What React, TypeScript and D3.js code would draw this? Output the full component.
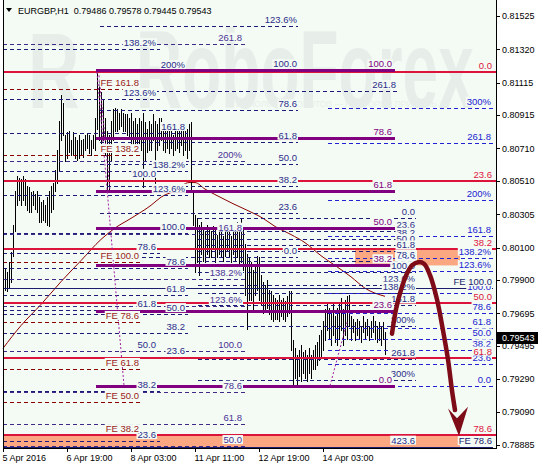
import React from "react";
import * as d3 from "d3";

// ---------- EURGBP H1 quotes (bar 1 = first bar on screen) ----------
const barHigh = [
  0.7997, 0.7995, 0.8001, 0.8007, 0.8024, 0.8045, 0.8054, 0.8053, 0.8052, 0.8054,
  0.8052, 0.8048, 0.8047, 0.8044, 0.8045, 0.8043, 0.8045, 0.8041, 0.8038, 0.8039,
  0.8036, 0.8041, 0.8045, 0.8048, 0.805, 0.8058, 0.807, 0.8088, 0.8104, 0.8099,
  0.8079, 0.8081, 0.8082, 0.8076, 0.8081, 0.8078, 0.8076, 0.8079, 0.8076, 0.8077,
  0.8079, 0.808, 0.8079, 0.8076, 0.8079, 0.809, 0.81186, 0.8113, 0.8106, 0.8101,
  0.809, 0.8082, 0.8079, 0.8088, 0.8095, 0.8096, 0.8095, 0.8093, 0.8095, 0.8093,
  0.8092, 0.8092, 0.809, 0.8093, 0.8088, 0.809, 0.8086, 0.809, 0.8088, 0.8093,
  0.8087, 0.8083, 0.8088, 0.8086, 0.8092, 0.8088, 0.8086, 0.809, 0.809, 0.8086,
  0.8083, 0.8087, 0.8082, 0.8086, 0.8079, 0.8083, 0.8085, 0.8082, 0.8087, 0.8083,
  0.8086, 0.8083, 0.8086, 0.8087, 0.8045, 0.803, 0.8028, 0.8024, 0.8026, 0.8022,
  0.802, 0.8024, 0.8022, 0.802, 0.8023, 0.8021, 0.8018, 0.8022, 0.802, 0.8017,
  0.8021, 0.8024, 0.802, 0.8017, 0.802, 0.8022, 0.8026, 0.802, 0.8028, 0.8021,
  0.8012, 0.8006, 0.8004, 0.8001, 0.7996, 0.7999, 0.8005, 0.8004, 0.7993, 0.7989,
  0.7987, 0.799, 0.7984, 0.7983, 0.7981, 0.7979, 0.7978, 0.7981, 0.7978, 0.7979,
  0.7977, 0.798, 0.7983, 0.7983, 0.7953, 0.7948, 0.7944, 0.7947, 0.795, 0.7946,
  0.7947, 0.7944, 0.7948, 0.7944, 0.7947, 0.795, 0.7952, 0.7956, 0.7959, 0.7965,
  0.7972, 0.7975, 0.7973, 0.797, 0.7975, 0.7968, 0.7973, 0.7975, 0.7979, 0.7972,
  0.7978, 0.798, 0.7981, 0.7968, 0.7966, 0.7964, 0.7966, 0.7965, 0.7962, 0.7968,
  0.7964, 0.7966, 0.7962, 0.7965, 0.7968, 0.7965, 0.7962, 0.7964, 0.7962, 0.7964,
  0.79578,
];
const barLow = [
  0.7984, 0.7983, 0.7985, 0.7989, 0.8005, 0.802, 0.8036, 0.8039, 0.8036, 0.8039,
  0.8036, 0.8033, 0.8032, 0.8032, 0.8036, 0.8034, 0.8032, 0.8026, 0.8026, 0.8027,
  0.8026, 0.8024, 0.8023, 0.8032, 0.8034, 0.8045, 0.805, 0.8058, 0.8076, 0.8079,
  0.8063, 0.8065, 0.8069, 0.8067, 0.8067, 0.8065, 0.8064, 0.8065, 0.8067, 0.8066,
  0.807, 0.8071, 0.8068, 0.8067, 0.8071, 0.807, 0.8083, 0.8076, 0.807, 0.8076,
  0.8067, 0.8045, 0.8045, 0.8064, 0.8076, 0.8082, 0.8082, 0.8083, 0.8085, 0.8082,
  0.8082, 0.8079, 0.8077, 0.8073, 0.807, 0.8073, 0.8071, 0.8074, 0.807, 0.8047,
  0.8064, 0.8069, 0.807, 0.807, 0.8076, 0.805, 0.807, 0.8073, 0.8076, 0.807,
  0.8069, 0.8071, 0.8068, 0.8071, 0.8067, 0.807, 0.8071, 0.8069, 0.8073, 0.8067,
  0.807, 0.8065, 0.807, 0.8045, 0.8024, 0.7995, 0.8001, 0.7993, 0.8006, 0.8002,
  0.8001, 0.8006, 0.8004, 0.8004, 0.8009, 0.8001, 0.8004, 0.8006, 0.8004, 0.8002,
  0.8005, 0.8008, 0.8004, 0.8001, 0.8006, 0.8002, 0.8004, 0.7999, 0.8001, 0.7996,
  0.7981, 0.796, 0.7978, 0.7978, 0.7972, 0.7981, 0.7984, 0.7978, 0.7975, 0.797,
  0.7972, 0.7973, 0.7969, 0.7966, 0.7965, 0.7966, 0.7966, 0.7965, 0.7968, 0.7966,
  0.7965, 0.7968, 0.797, 0.7947, 0.7925, 0.793, 0.7925, 0.7931, 0.7928, 0.7933,
  0.793, 0.7928, 0.7933, 0.793, 0.7935, 0.7935, 0.7938, 0.7941, 0.7942, 0.7947,
  0.7953, 0.7959, 0.7954, 0.795, 0.7956, 0.7952, 0.795, 0.7954, 0.7959, 0.795,
  0.7956, 0.7954, 0.7962, 0.7953, 0.7958, 0.7953, 0.7956, 0.7954, 0.7952, 0.7958,
  0.7954, 0.7956, 0.7953, 0.7955, 0.7958, 0.7954, 0.7952, 0.7953, 0.795, 0.7954,
  0.79445,
];
const lastClose = 0.79543;
const headerSymbol = "EURGBP,H1";
const headerValues = ["0.79486", "0.79578", "0.79445", "0.79543"];

// moving average, sampled at bar numbers
const maBars = [0, 9, 19, 29, 39, 49, 56, 64, 74, 79, 86, 93, 96, 101, 107, 115, 122, 130, 136, 144, 151, 159, 166, 174, 181, 191];
const maValues = [
  0.7948, 0.7962, 0.7975, 0.7989, 0.8002, 0.8015, 0.8022, 0.8028, 0.8036, 0.8041, 0.8045, 0.805, 0.805,
  0.8046, 0.8042, 0.8037, 0.8033, 0.8028, 0.8023, 0.8018, 0.8013, 0.8005, 0.7999, 0.7992, 0.7985, 0.798,
];

// axes
const priceTicks = [0.81525, 0.8132, 0.81115, 0.80915, 0.8071, 0.8051, 0.80305, 0.801, 0.799, 0.79695, 0.79495, 0.7929, 0.7909, 0.78885];
const timeTickBars = [0, 32, 64, 96, 128, 160];
const timeTickLabels = ["5 Apr 2016", "6 Apr 19:00", "8 Apr 03:00", "11 Apr 11:00", "12 Apr 19:00", "14 Apr 03:00"];

// ---------- Fibonacci objects ----------
const fibPurple = { p0: 0.7925, p100: 0.8119, from: 46.5, to: 196, labelAt: 195,
  ratios: [0, 23.6, 38.2, 50, 61.8, 78.6, 100],
  texts: ["0.0", "23.6", "38.2", "50.0", "61.8", "78.6", "100.0"] };
const fibCrimson = { p0: 0.8118, p100: 0.78337, from: 0, to: 246.5, labelAt: 245,
  ratios: [0, 23.6, 38.2, 50, 61.8, 78.6],
  texts: ["0.0", "23.6", "38.2", "50.0", "61.8", "78.6"] };
const fibBlue = { p0: 0.7925, p100: 0.7982, from: 162.5, to: 245, labelAt: 244.5,
  ratios: [0, 23.6, 38.2, 50, 61.8, 78.6, 100, 123.6, 138.2, 161.8, 200, 261.8, 300],
  texts: ["0.0", "23.6", "38.2", "50.0", "61.8", "78.6", "100.0", "123.6%", "138.2%", "161.8", "200%", "261.8", "300%"] };
const fibUpper = { p0: 0.80041, p100: 0.8119, from: 48.5, to: 147.5, labelAt: 147.5,
  ratios: [0, 23.6, 38.2, 50, 61.8, 78.6, 100, 123.6],
  texts: ["0.0", "23.6", "38.2", "50.0", "61.8", "78.6", "100.0", "123.6%"] };
const fibLeftWide = { p0: 0.78412, p100: 0.80517, from: 0, to: 78.5, labelAt: 77,
  ratios: [23.6, 38.2, 50, 61.8, 78.6, 100, 123.6, 138.2],
  texts: ["23.6", "38.2", "50.0", "61.8", "78.6", "100.0", "123.6%", "138.2%"] };
const fibLeftLong = { p0: 0.78294, p100: 0.79463, from: 0, to: 121, labelAt: 120,
  ratios: [50, 61.8, 78.6, 100, 123.6, 138.2, 161.8, 200, 261.8],
  texts: ["50.0", "61.8", "78.6", "100.0", "123.6%", "138.2%", "161.8", "200%", "261.8"] };
const fibMiddle = { p0: 0.80281, p100: 0.79949, from: 97.5, to: 206.5, labelAt: 206.5,
  ratios: [0, 23.6, 38.2, 50, 61.8, 78.6, 100, 123.6, 138.2, 161.8, 200, 261.8, 300, 423.6],
  texts: ["0.0", "23.6", "38.2", "50.0", "61.8", "78.6", "100.0", "123.6%", "138.2%", "161.8", "200%", "261.8", "300%", "423.6"] };
const fibLeftShort = { p0: 0.79192, p100: 0.80189, from: 0, to: 92.5, labelAt: 91.5,
  ratios: [23.6, 38.2, 50, 61.8, 78.6, 100, 123.6, 138.2, 161.8, 200],
  texts: ["23.6", "38.2", "50.0", "61.8", "78.6", "100.0", "123.6%", "138.2%", "161.8", "200%"] };
const fibSingle = { p0: 0.80041, p100: 0.81063, from: 76, to: 197, labelAt: 197,
  ratios: [100], texts: ["261.8"] };
const expansionRed = { p0: 0.78288, p100: 0.80011, from: 0, to: 68.5, labelAt: 68.5,
  ratios: [38.2, 50, 61.8, 78.6, 100, 138.2, 161.8],
  texts: ["FE 38.2", "FE 50.0", "FE 61.8", "FE 78.6", "FE 100.0", "FE 138.2", "FE 161.8"] };
const expansionNavy = { p0: 0.75276, p100: 0.79851, from: 0, to: 245, labelAt: 245,
  ratios: [78.6, 100], texts: ["FE 78.6", "FE 100.0"] };

// target zones
const zoneFrom = [176, 207, 0];
const zoneTo = [196, 228.5, 228.5];
const zoneTop = [0.80094, 0.80094, 0.78945];
const zoneBottom = [0.8, 0.7999, 0.7887];

// trend lines of the expansion tools
const trendFromBar = [47, 48, 163.5];
const trendFromPrice = [0.8118, 0.8116, 0.7925];
const trendToBar = [60.5, 53.5, 172];
const trendToPrice = [0.7925, 0.8045, 0.7964];

// forecast arrow
const forecastBars = [194.5, 196.5, 199, 202, 204.5, 207.5, 210.5, 213.5, 217, 220, 222.5, 224.5, 226];
const forecastPrices = [0.7957, 0.7972, 0.7984, 0.7994, 0.7999, 0.8001, 0.8, 0.7993, 0.7978, 0.7959, 0.7941, 0.7922, 0.791];
const arrowHeadBars = [228, 222.5, 227, 232.5];
const arrowHeadPrices = [0.7894, 0.7911, 0.7905, 0.7912];

// ---------- styling ----------
const FONT = "'Liberation Sans', Arial, sans-serif";
const PLOT_BG = "#f3fbf4";
type Style = { stroke: string; width: number; dash?: string; text: string };
const STYLES: Record<string, Style> = {
  navy: { stroke: "#1c1c78", width: 1, dash: "4,3", text: "#2c2c8a" },
  violet: { stroke: "#3f2a88", width: 1, dash: "4,3", text: "#4b3096" },
  blue: { stroke: "#2222d2", width: 1, dash: "4,3", text: "#2222d2" },
  feRed: { stroke: "#8b0000", width: 1, dash: "4,3", text: "#9b1c1c" },
  feNavy: { stroke: "#1c1c6e", width: 1, text: "#1c1c6e" },
  crimson: { stroke: "#dc143c", width: 2, text: "#e0143c" },
  purple: { stroke: "#800080", width: 3, text: "#800080" },
};

type Fib = { p0: number; p100: number; from: number; to: number; labelAt: number; ratios: number[]; texts: string[] };
const layers: { fib: Fib; style: string }[] = [
  { fib: fibLeftShort, style: "navy" },
  { fib: fibLeftWide, style: "navy" },
  { fib: fibLeftLong, style: "violet" },
  { fib: fibUpper, style: "navy" },
  { fib: fibMiddle, style: "navy" },
  { fib: fibSingle, style: "navy" },
  { fib: expansionRed, style: "feRed" },
  { fib: fibBlue, style: "blue" },
  { fib: expansionNavy, style: "feNavy" },
  { fib: fibCrimson, style: "crimson" },
  { fib: fibPurple, style: "purple" },
];

function textWidth(s: string, size: number) {
  let w = 0;
  for (const c of s) {
    if (c >= "0" && c <= "9") w += 0.556;
    else if (c === "." || c === " ") w += 0.278;
    else if (c === "%") w += 0.889;
    else if (c === "F") w += 0.611;
    else if (c === "E") w += 0.667;
    else w += 0.6;
  }
  return w * size;
}

export default function App() {
  const x = d3.scaleLinear().domain([0, 246.5]).range([3, 496]);
  const y = d3.scaleLinear().domain([0.78885, 0.81525]).range([445, 16]);
  const LBL = 9.5;

  const crispY = (v: number, w: number) => (w % 2 === 1 ? Math.round(v) + 0.5 : Math.round(v));

  const maLine = d3
    .line<number>()
    .x((_, i) => x(maBars[i]))
    .y((v) => y(v))
    .curve(d3.curveMonotoneX)(maValues) as string;

  const arrowLine = d3
    .line<number>()
    .x((_, i) => x(forecastBars[i]))
    .y((v) => y(v))
    .curve(d3.curveCatmullRom)(forecastPrices) as string;

  const headPts = arrowHeadBars.map((b, i) => [x(b), y(arrowHeadPrices[i])].join(",")).join(" ");

  const level = (f: Fib, r: number) => f.p0 + (r / 100) * (f.p100 - f.p0);

  return (
    <div style={{ position: "fixed", left: 0, top: 0 }}>
      <svg width={538} height={466} style={{ display: "block", fontFamily: FONT }}>
        <rect x={0} y={0} width={538} height={466} fill="#ffffff" />
        <rect x={x(0)} y={0} width={x(246.5) - x(0)} height={448} fill={PLOT_BG} />

        {/* watermark */}
        <g fill="#e7eeea" fontWeight="bold">
          <text transform="translate(28,108) scale(1.15,1.75)" x={0} y={0} fontSize={62}>R</text>
          <text transform="translate(136,108) scale(1,1.75)" x={0} y={0} fontSize={64}>RoboForex</text>
          <text x={236} y={107} fontSize={8.5} fontWeight="normal" fill="#e8efeb">
            ИСПОЛЬЗУЙ РОБОТОВ — ПОВТОРЯЙ ПРИБЫЛЬ
          </text>
        </g>

        {/* target zones */}
        {zoneFrom.map((f, i) => (
          <rect key={"z" + i} x={x(f)} y={y(zoneTop[i])} width={x(zoneTo[i]) - x(f)}
            height={Math.min(y(zoneBottom[i]), 448) - y(zoneTop[i])} fill="#fba882" />
        ))}

        {/* moving average */}
        <path d={maLine} fill="none" stroke="#8b0000" strokeWidth={1} />

        {/* price bars */}
        <g stroke="#000" strokeWidth={1} shapeRendering="crispEdges">
          {barHigh.map((h, i) => {
            const xx = Math.round(x(i + 1)) + 0.5;
            return <line key={"b" + i} x1={xx} x2={xx} y1={Math.round(y(h))} y2={Math.round(y(barLow[i])) + 1} />;
          })}
        </g>

        {/* fibonacci level lines */}
        {layers.map((L, li) => {
          const s = STYLES[L.style];
          return (
            <g key={"l" + li} stroke={s.stroke} strokeWidth={s.width} strokeDasharray={s.dash} shapeRendering="crispEdges">
              {L.fib.ratios.map((r, k) => {
                const yy = crispY(y(level(L.fib, r)), s.width);
                return <line key={k} x1={x(L.fib.from)} x2={x(L.fib.to)} y1={yy} y2={yy} />;
              })}
            </g>
          );
        })}

        {/* expansion trend lines */}
        <g stroke="#a020a0" strokeWidth={1} strokeDasharray="2,2">
          {trendFromBar.map((b, i) => (
            <line key={"t" + i} x1={x(b)} y1={y(trendFromPrice[i])} x2={x(trendToBar[i])} y2={y(trendToPrice[i])} />
          ))}
        </g>

        {/* level captions */}
        {layers.map((L, li) => {
          const s = STYLES[L.style];
          return (
            <g key={"c" + li} fontSize={LBL}>
              {L.fib.ratios.map((r, k) => {
                const t = L.fib.texts[k];
                const yy = y(level(L.fib, r));
                if (yy < 8 || yy > 452) return null;
                const xe = x(L.fib.labelAt) - 1;
                const w = textWidth(t, LBL);
                return (
                  <g key={k}>
                    <rect x={xe - w - 1} y={yy - 11} width={w + 2} height={9} fill={PLOT_BG} />
                    <text x={xe} y={yy - 3} textAnchor="end" fill={s.text}>{t}</text>
                  </g>
                );
              })}
            </g>
          );
        })}

        {/* forecast arrow */}
        <path d={arrowLine} fill="none" stroke="#7e0b18" strokeWidth={4.5} strokeLinecap="round" />
        <polygon points={headPts} fill="#7e0b18" />

        {/* frame and axes */}
        <g stroke="#000" strokeWidth={1} shapeRendering="crispEdges">
          <line x1={3.5} x2={3.5} y1={0} y2={448} />
          <line x1={496.5} x2={496.5} y1={0} y2={448} />
          <line x1={3} x2={497} y1={448.5} y2={448.5} />
          {priceTicks.map((p) => (
            <line key={"pt" + p} x1={497} x2={500} y1={Math.round(y(p)) + 0.5} y2={Math.round(y(p)) + 0.5} />
          ))}
          {timeTickBars.map((b) => (
            <line key={"tt" + b} x1={Math.round(x(b)) + 0.5} x2={Math.round(x(b)) + 0.5} y1={448} y2={452} />
          ))}
        </g>
        <g fontSize={9} fill="#000">
          {priceTicks.map((p) => (
            <text key={"pl" + p} x={502} y={y(p) + 3.3}>{p.toFixed(5)}</text>
          ))}
          {timeTickBars.map((b, i) => (
            <text key={"tl" + b} x={x(b) - 0.5} y={461}>{timeTickLabels[i]}</text>
          ))}
        </g>

        {/* last price marker */}
        <rect x={497} y={Math.round(y(lastClose)) - 6} width={41} height={12} fill="#000" />
        <text x={502} y={y(lastClose) + 3.3} fontSize={9} fill="#fff">{lastClose.toFixed(5)}</text>

        {/* header */}
        <polygon points="6,8 12,8 9,12" fill="#000" />
        <text x={18} y={14} fontSize={9} fill="#000" xmlSpace="preserve">
          {headerSymbol + "  " + headerValues.join(" ")}
        </text>
      </svg>
    </div>
  );
}
